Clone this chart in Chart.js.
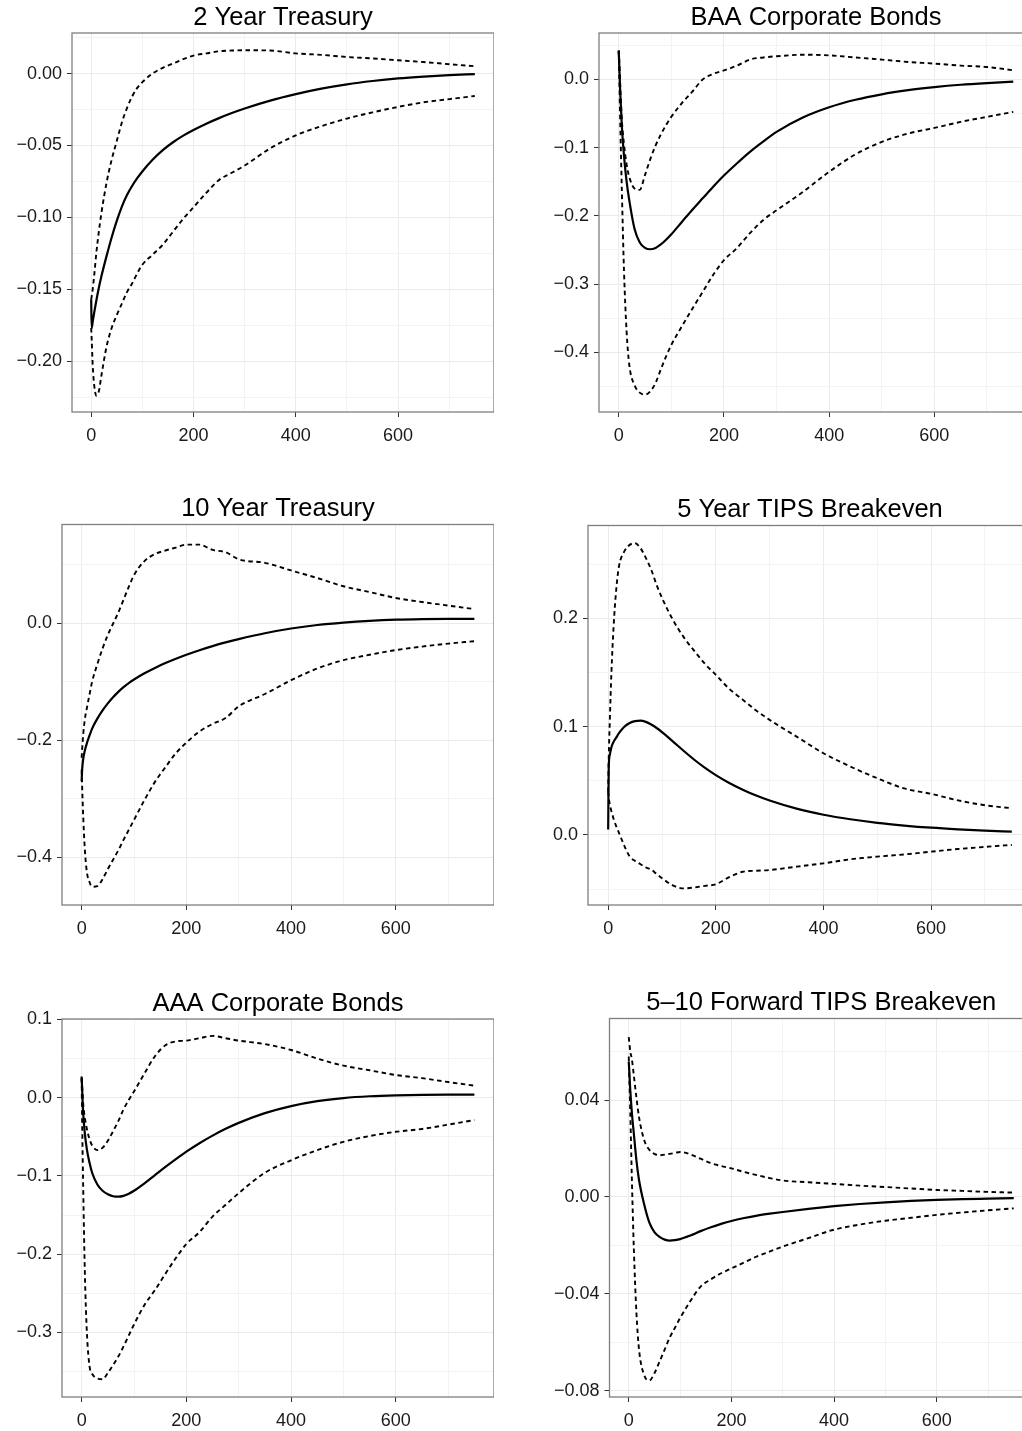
<!DOCTYPE html>
<html>
<head>
<meta charset="utf-8">
<script src="https://cdn.jsdelivr.net/npm/chart.js@4.4.1/dist/chart.umd.min.js"></script>
<style>
  html, body { margin: 0; padding: 0; background: #fff; overflow: hidden; }
  body { width: 1022px; height: 1431px; position: relative; }
  canvas { position: absolute; }
</style>
</head>
<body>
<canvas id="p1"></canvas>
<canvas id="p2"></canvas>
<canvas id="p3"></canvas>
<canvas id="p4"></canvas>
<canvas id="p5"></canvas>
<canvas id="p6"></canvas>
<script>
// horizon (x) shared by every series
const horizon = [0, 1, 3, 6, 10, 15, 20, 30, 40, 50, 60, 70, 80, 90, 100, 120, 140, 160, 180, 200,
  225, 250, 275, 300, 350, 400, 450, 500, 550, 600, 650, 700, 750];
const xTicks = [0, 200, 400, 600];
const xMinor = [100, 300, 500, 700];

// 2 Year Treasury
const treas2Mid = [-0.157, -0.177, -0.1725, -0.166, -0.158, -0.149, -0.141, -0.127, -0.114, -0.1025, -0.0925, -0.0845, -0.0782, -0.0728, -0.0681, -0.0600, -0.0533, -0.0478, -0.0432, -0.0393, -0.0349, -0.0310, -0.0275, -0.0243, -0.0188, -0.0143, -0.0105, -0.0075, -0.0052, -0.0034, -0.0021, -0.0011, -0.0004];
const treas2Hi = [-0.157, -0.155, -0.150, -0.140, -0.125, -0.110, -0.097, -0.076, -0.060, -0.047, -0.034, -0.024, -0.016, -0.010, -0.006, 0.000, 0.004, 0.007, 0.010, 0.0125, 0.014, 0.0155, 0.016, 0.0162, 0.016, 0.014, 0.013, 0.0115, 0.0105, 0.0092, 0.008, 0.0065, 0.0051];
const treas2Lo = [-0.177, -0.185, -0.203, -0.217, -0.224, -0.221, -0.210, -0.190, -0.177, -0.168, -0.160, -0.152, -0.146, -0.139, -0.133, -0.126, -0.119, -0.110, -0.101, -0.093, -0.083, -0.074, -0.069, -0.064, -0.052, -0.043, -0.0366, -0.0313, -0.027, -0.0232, -0.020, -0.0178, -0.0156];
const treas2YTicks = [-0.2, -0.15, -0.1, -0.05, 0];
const treas2YMinor = [-0.225, -0.175, -0.125, -0.075, -0.025, 0.025];

// BAA Corporate Bonds
const baaMid = [0.042, 0.020, -0.022, -0.070, -0.112, -0.150, -0.177, -0.219, -0.239, -0.247, -0.249, -0.247, -0.242, -0.235, -0.227, -0.209, -0.191, -0.174, -0.157, -0.141, -0.123, -0.106, -0.091, -0.077, -0.056, -0.041, -0.030, -0.022, -0.016, -0.0115, -0.008, -0.0055, -0.0035];
const baaHi = [0.042, 0.028, -0.010, -0.060, -0.095, -0.125, -0.143, -0.160, -0.162, -0.140, -0.117, -0.097, -0.081, -0.067, -0.055, -0.035, -0.018, 0.000, 0.008, 0.013, 0.020, 0.029, 0.032, 0.0337, 0.036, 0.035, 0.032, 0.0288, 0.0254, 0.023, 0.020, 0.018, 0.0132];
const baaLo = [0.042, 0.005, -0.068, -0.165, -0.280, -0.370, -0.418, -0.448, -0.459, -0.462, -0.457, -0.445, -0.425, -0.406, -0.389, -0.362, -0.336, -0.311, -0.286, -0.265, -0.247, -0.225, -0.206, -0.192, -0.165, -0.1356, -0.110, -0.0917, -0.0795, -0.0712, -0.0624, -0.055, -0.0478];
const baaYTicks = [-0.4, -0.3, -0.2, -0.1, 0];
const baaYMinor = [-0.45, -0.35, -0.25, -0.15, -0.05, 0.05];

// 10 Year Treasury
const treas10Mid = [-0.270, -0.250, -0.232, -0.218, -0.205, -0.192, -0.180, -0.163, -0.149, -0.137, -0.1265, -0.1173, -0.1093, -0.1023, -0.0962, -0.0856, -0.0764, -0.0682, -0.0608, -0.0540, -0.0462, -0.0392, -0.0329, -0.0272, -0.0172, -0.0092, -0.0032, 0.0010, 0.0040, 0.0059, 0.0068, 0.0072, 0.0072];
const treas10Hi = [-0.230, -0.215, -0.190, -0.165, -0.145, -0.122, -0.100, -0.070, -0.043, -0.020, -0.001, 0.018, 0.040, 0.062, 0.082, 0.106, 0.118, 0.124, 0.129, 0.134, 0.134, 0.125, 0.121, 0.109, 0.103, 0.090, 0.077, 0.063, 0.053, 0.043, 0.036, 0.030, 0.024];
const treas10Lo = [-0.250, -0.280, -0.330, -0.385, -0.425, -0.442, -0.450, -0.449, -0.437, -0.420, -0.404, -0.388, -0.370, -0.353, -0.336, -0.302, -0.271, -0.246, -0.222, -0.204, -0.185, -0.172, -0.162, -0.142, -0.121, -0.0974, -0.0775, -0.0632, -0.054, -0.046, -0.040, -0.035, -0.0308];
const treas10YTicks = [-0.4, -0.2, 0];
const treas10YMinor = [-0.3, -0.1, 0.1];

// 5 Year TIPS Breakeven
const tips5Mid = [0.005, 0.062, 0.074, 0.081, 0.086, 0.090, 0.094, 0.100, 0.1035, 0.1052, 0.1057, 0.1045, 0.1020, 0.0988, 0.0950, 0.0865, 0.0778, 0.0695, 0.0620, 0.0553, 0.0480, 0.0418, 0.0364, 0.0318, 0.0243, 0.0187, 0.0145, 0.0112, 0.0087, 0.0067, 0.0052, 0.0040, 0.0031];
const tips5Hi = [0.040, 0.070, 0.105, 0.150, 0.192, 0.227, 0.248, 0.262, 0.268, 0.2695, 0.265, 0.256, 0.245, 0.231, 0.219, 0.199, 0.183, 0.170, 0.158, 0.148, 0.135, 0.125, 0.115, 0.1063, 0.0909, 0.0755, 0.0632, 0.0524, 0.043, 0.038, 0.032, 0.0275, 0.0247];
const tips5Lo = [0.040, 0.035, 0.028, 0.022, 0.015, 0.008, 0.002, -0.010, -0.020, -0.024, -0.027, -0.030, -0.032, -0.036, -0.040, -0.0465, -0.0493, -0.0485, -0.047, -0.0455, -0.039, -0.034, -0.033, -0.0324, -0.0293, -0.0262, -0.0225, -0.020, -0.018, -0.0154, -0.013, -0.011, -0.0092];
const tips5YTicks = [0, 0.1, 0.2];
const tips5YMinor = [-0.05, 0.05, 0.15, 0.25];

// AAA Corporate Bonds
const aaaMid = [0.027, 0.010, -0.020, -0.045, -0.066, -0.083, -0.096, -0.111, -0.119, -0.1235, -0.126, -0.1266, -0.1255, -0.1228, -0.1190, -0.1095, -0.0990, -0.0885, -0.0785, -0.0690, -0.0582, -0.0485, -0.0398, -0.0322, -0.0198, -0.0108, -0.0045, -0.0005, 0.0018, 0.0030, 0.0036, 0.0038, 0.0038];
const aaaHi = [0.025, 0.015, -0.008, -0.025, -0.040, -0.053, -0.061, -0.067, -0.064, -0.055, -0.043, -0.030, -0.015, -0.003, 0.008, 0.031, 0.053, 0.067, 0.072, 0.073, 0.076, 0.079, 0.076, 0.073, 0.0685, 0.061, 0.050, 0.041, 0.035, 0.029, 0.025, 0.020, 0.0154];
const aaaLo = [0.025, -0.030, -0.115, -0.220, -0.300, -0.343, -0.353, -0.359, -0.360, -0.352, -0.342, -0.331, -0.318, -0.304, -0.290, -0.265, -0.246, -0.225, -0.205, -0.187, -0.172, -0.152, -0.137, -0.122, -0.096, -0.080, -0.067, -0.0564, -0.049, -0.0436, -0.040, -0.0345, -0.0286];
const aaaYTicks = [-0.3, -0.2, -0.1, 0, 0.1];
const aaaYMinor = [-0.35, -0.25, -0.15, -0.05, 0.05];

// 5-10 Forward TIPS Breakeven
const fwdMid = [0.056, 0.052, 0.044, 0.035, 0.026, 0.015, 0.007, -0.003, -0.0105, -0.0145, -0.0165, -0.0176, -0.0180, -0.0178, -0.0174, -0.0159, -0.0141, -0.0125, -0.0111, -0.0099, -0.0087, -0.0077, -0.0069, -0.0062, -0.0049, -0.0038, -0.0029, -0.0022, -0.0016, -0.0012, -0.0009, -0.0007, -0.0005];
const fwdHi = [0.066, 0.064, 0.060, 0.057, 0.050, 0.041, 0.033, 0.0235, 0.0195, 0.0178, 0.0172, 0.0175, 0.0178, 0.0182, 0.0186, 0.0176, 0.0158, 0.014, 0.0128, 0.0118, 0.0103, 0.009, 0.0078, 0.0068, 0.0061, 0.0054, 0.0047, 0.0041, 0.0035, 0.0029, 0.0025, 0.0021, 0.0018];
const fwdLo = [0.058, 0.050, 0.035, 0.008, -0.022, -0.048, -0.063, -0.0735, -0.0758, -0.0728, -0.068, -0.063, -0.058, -0.054, -0.050, -0.043, -0.037, -0.034, -0.0315, -0.0295, -0.027, -0.0245, -0.0225, -0.0205, -0.017, -0.0135, -0.0114, -0.0098, -0.0086, -0.0074, -0.0064, -0.0055, -0.0047];
const fwdYTicks = [-0.08, -0.04, 0, 0.04];
const fwdYMinor = [-0.06, -0.02, 0.02, 0.06];

// panel placement on the page: canvas corner (cl, ct) and plot box L/T/R/B
const panels = [
  { id: "p1", title: "2 Year Treasury", mid: treas2Mid, hi: treas2Hi, lo: treas2Lo,
    yTicks: treas2YTicks, yMinor: treas2YMinor, yMin: -0.2354, yMax: 0.0282, dec: 2,
    cl: 0, ct: 0, L: 72, T: 33, R: 494, B: 412 },
  { id: "p2", title: "BAA Corporate Bonds", mid: baaMid, hi: baaHi, lo: baaLo,
    yTicks: baaYTicks, yMinor: baaYMinor, yMin: -0.4874, yMax: 0.0678, dec: 1,
    cl: 515, ct: 0, L: 599, T: 33, R: 1033, B: 412 },
  { id: "p3", title: "10 Year Treasury", mid: treas10Mid, hi: treas10Hi, lo: treas10Lo,
    yTicks: treas10YTicks, yMinor: treas10YMinor, yMin: -0.4812, yMax: 0.1684, dec: 1,
    cl: 0, ct: 491, L: 62, T: 524.5, R: 494, B: 905 },
  { id: "p4", title: "5 Year TIPS Breakeven", mid: tips5Mid, hi: tips5Hi, lo: tips5Lo,
    yTicks: tips5YTicks, yMinor: tips5YMinor, yMin: -0.0647, yMax: 0.2859, dec: 1,
    cl: 515, ct: 492, L: 588, T: 525.5, R: 1032, B: 905 },
  { id: "p5", title: "AAA Corporate Bonds", mid: aaaMid, hi: aaaHi, lo: aaaLo,
    yTicks: aaaYTicks, yMinor: aaaYMinor, yMin: -0.3827, yMax: 0.1006, dec: 1,
    cl: 0, ct: 986, L: 62, T: 1019, R: 494, B: 1397 },
  { id: "p6", title: "5\u201310 Forward TIPS Breakeven", mid: fwdMid, hi: fwdHi, lo: fwdLo,
    yTicks: fwdYTicks, yMinor: fwdYMinor, yMin: -0.0826, yMax: 0.0737, dec: 2,
    cl: 515, ct: 985, L: 609.5, T: 1018.5, R: 1032.5, B: 1397 },
];

Chart.defaults.font.family = "'Liberation Sans', Arial, Helvetica, sans-serif";

const GRID_MAJOR = "#EBEBEB";
const GRID_MINOR = "#F3F3F3";
const TICK_MARK = "#333333";
const AXIS_H = 36;
const TITLE_SIZE = 25.5;
const TICK_SIZE = 18;

const near = (list, v) => list.some((t) => Math.abs(t - v) < 1e-9);
const fmt = (v, d) => {
    const s = Math.abs(v).toFixed(d);
    return v < -1e-12 ? "\u2212" + s : s;
};

const panelBorder = {
    id: "panelBorder",
    afterDraw(chart) {
        const { ctx, chartArea: a } = chart;
        ctx.save();
        ctx.strokeStyle = "#7F7F7F";
        ctx.lineWidth = 1.3;
        ctx.strokeRect(a.left, a.top, a.right - a.left, a.bottom - a.top);
        ctx.restore();
    },
};

function lineSet(ys, dashed) {
    return {
        data: horizon.map((x, i) => ({ x: x, y: ys[i] })),
        borderColor: "#000000",
        borderWidth: dashed ? 1.9 : 2.2,
        borderDash: dashed ? [4.5, 3.5] : [],
        pointRadius: 0,
        fill: false,
        cubicInterpolationMode: "monotone",
    };
}

panels.forEach((p) => {
    const canvas = document.getElementById(p.id);
    const w = Math.round(p.R - p.cl);
    const h = Math.round(p.B - p.ct) + AXIS_H;
    canvas.width = w;
    canvas.height = h;
    canvas.style.left = p.cl + "px";
    canvas.style.top = p.ct + "px";
    canvas.style.width = w + "px";
    canvas.style.height = h + "px";

    const xAll = [...xTicks, ...xMinor].sort((a, b) => a - b);
    const yAll = [...p.yTicks, ...p.yMinor].sort((a, b) => a - b);

    new Chart(canvas, {
        type: "line",
        data: {
            datasets: [lineSet(p.hi, true), lineSet(p.lo, true), lineSet(p.mid, false)],
        },
        options: {
            responsive: false,
            animation: false,
            events: [],
            layout: { padding: 0 },
            plugins: {
                legend: { display: false },
                tooltip: { enabled: false },
                title: {
                    display: true,
                    text: p.title,
                    fullSize: false,
                    color: "#000000",
                    font: { size: TITLE_SIZE, weight: "normal", lineHeight: 1.2 },
                    padding: { top: p.T - p.ct - TITLE_SIZE * 1.2, bottom: 0 },
                },
            },
            scales: {
                x: {
                    type: "linear",
                    min: -37.5,
                    max: 787.5,
                    afterBuildTicks: (s) => {
                        s.ticks = xAll.map((v) => ({ value: v }));
                    },
                    afterFit: (s) => {
                        s.height = AXIS_H;
                    },
                    border: { display: false },
                    grid: {
                        color: (c) => (c.tick && near(xTicks, c.tick.value) ? GRID_MAJOR : GRID_MINOR),
                        tickColor: (c) => (c.tick && near(xTicks, c.tick.value) ? TICK_MARK : "rgba(0,0,0,0)"),
                        tickLength: 5,
                        lineWidth: 1,
                    },
                    ticks: {
                        autoSkip: false,
                        maxRotation: 0,
                        padding: 8,
                        color: "#1a1a1a",
                        font: { size: TICK_SIZE },
                        callback: (v) => (near(xTicks, v) ? String(v) : ""),
                    },
                },
                y: {
                    type: "linear",
                    min: p.yMin,
                    max: p.yMax,
                    afterBuildTicks: (s) => {
                        s.ticks = yAll.map((v) => ({ value: v }));
                    },
                    afterFit: (s) => {
                        s.width = p.L - p.cl;
                    },
                    border: { display: false },
                    grid: {
                        color: (c) => (c.tick && near(p.yTicks, c.tick.value) ? GRID_MAJOR : GRID_MINOR),
                        tickColor: (c) => (c.tick && near(p.yTicks, c.tick.value) ? TICK_MARK : "rgba(0,0,0,0)"),
                        tickLength: 5,
                        lineWidth: 1,
                    },
                    ticks: {
                        autoSkip: false,
                        padding: 5,
                        color: "#1a1a1a",
                        font: { size: TICK_SIZE },
                        callback: (v) => (near(p.yTicks, v) ? fmt(v, p.dec) : ""),
                    },
                },
            },
        },
        plugins: [panelBorder],
    });
});
</script>
</body>
</html>
